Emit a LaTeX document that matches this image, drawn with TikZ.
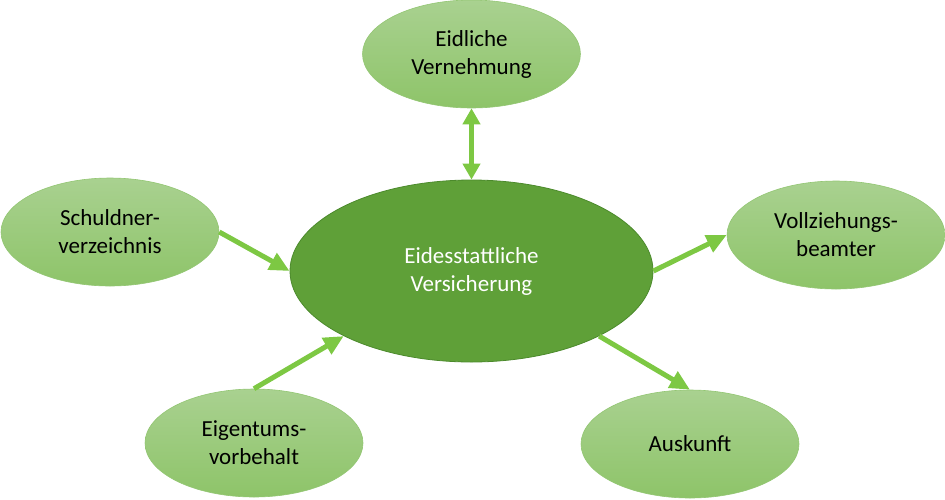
\documentclass[tikz,border=0pt]{standalone}
\usepackage{fontspec}
\setmainfont{Carlito}
\usetikzlibrary{shapes.geometric,arrows.meta}
\definecolor{kerngruen}{HTML}{5FA038}
\definecolor{kernrand}{HTML}{4C8A2C}
\definecolor{hellobenA}{HTML}{A9D190}
\definecolor{helluntenB}{HTML}{8EC469}
\definecolor{hellrand}{HTML}{93C673}
\definecolor{pfeilgruen}{HTML}{7DC843}
\begin{document}
\begin{tikzpicture}
  [x=1pt,y=-1pt,
   every node/.style={ellipse,inner sep=0pt,align=center,font=\fontsize{23}{28}\selectfont},
   neben/.style={minimum width=218pt,minimum height=108pt,top color=hellobenA,bottom color=helluntenB,draw=hellrand,line width=0.6pt},
   haupt/.style={minimum width=363pt,minimum height=182pt,fill=kerngruen,draw=kernrand,line width=0.8pt,text=white},
   pfeil/.style={draw=pfeilgruen,line width=5pt,-{Triangle[length=20pt,width=18pt]}}]
  \useasboundingbox (0,0) rectangle (945,499);

  \node[haupt] (kern)      at (471.5,271) {Eidesstattliche\\Versicherung};
  \node[neben] (eidlich)   at (471.5,54)  {Eidliche\\Vernehmung};
  \node[neben] (schuldner) at (110,232)   {Schuldner-\\verzeichnis};
  \node[neben] (vollz)     at (836,235)   {Vollziehungs-\\beamter};
  \node[neben] (eigentum)  at (254,443)   {Eigentums-\\vorbehalt};
  \node[neben] (auskunft)  at (690,444)   {Auskunft};

  \draw[draw=pfeilgruen,line width=5pt,{Triangle[length=16pt,width=17pt]}-{Triangle[length=16pt,width=17pt]}]
    (eidlich.south) -- (kern.north);
  \foreach \von/\nach in {schuldner.east/kern.west,eigentum.north/kern.207,kern.east/vollz.west,kern.333/auskunft.north}
    \draw[pfeil] (\von) -- (\nach);

\end{tikzpicture}
\end{document}
